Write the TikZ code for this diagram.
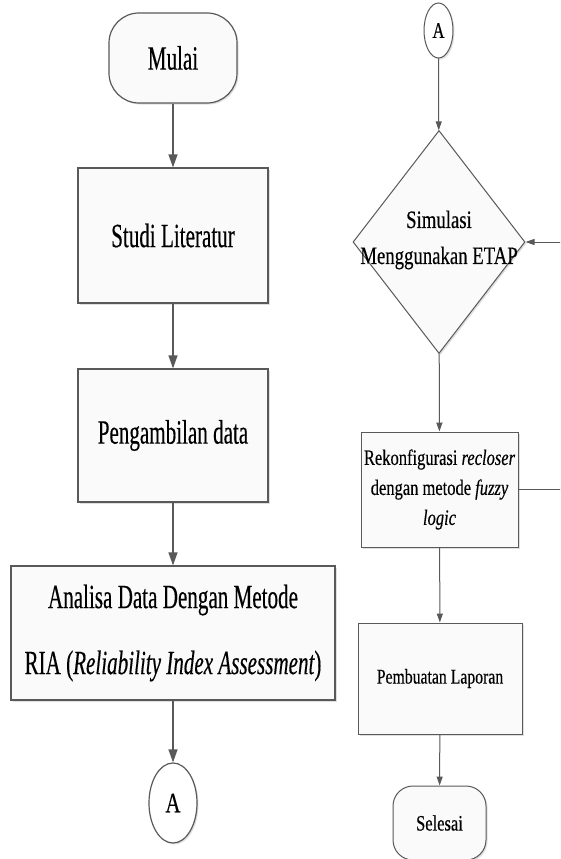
\documentclass[tikz,border=0pt]{standalone}
\usepackage{fontspec}
\setmainfont{Liberation Serif}
\newfontfamily\fL[FakeStretch=0.62,FakeBold=0.3]{Liberation Serif}
\newfontfamily\fR[FakeStretch=0.75,FakeBold=0.3]{Liberation Serif}
\usetikzlibrary{shapes.geometric,shadows,arrows.meta}

\begin{document}
\begin{tikzpicture}[x=1pt,y=-1pt,
  ln/.style={draw=black!65, line width=1.2pt},
  shad/.style={drop shadow={shadow xshift=1.5pt, shadow yshift=-1.5pt, opacity=0.25}},
  boxL/.style={ln, shad, rectangle, fill=black!2, inner sep=0pt,
     font=\fL\fontsize{34}{66}\selectfont, align=center},
  boxR/.style={ln, line width=1pt, shad, rectangle, fill=black!2, inner sep=0pt,
     font=\fR\fontsize{22}{30}\selectfont, align=center},
  termL/.style={boxL, rounded corners=30pt},
  termR/.style={boxR, rounded corners=20pt},
  conn/.style={ln, ellipse, fill=white, shad, inner sep=0pt},
  arrL/.style={ln, -{Triangle[length=13pt,width=9pt]}},
  arrR/.style={ln, line width=1pt, -{Triangle[length=9pt,width=6pt]}},
]
\path[use as bounding box, clip] (0,0) rectangle (560,859);
\fill[white] (0,0) rectangle (560,859);

% left column
\node[termL, minimum width=128, minimum height=90] (mulai) at (173,58) {Mulai};
\node[boxL, minimum width=190, minimum height=135] (studi) at (173,235.5) {Studi Literatur};
\node[boxL, minimum width=190, minimum height=133] (ambil) at (173,435.5) {Pengambilan data};
\node[boxL, minimum width=324, minimum height=134] (ria) at (173,633)
  {Analisa Data Dengan Metode\\RIA ({\itshape Reliability Index Assessment})};
\node[conn, minimum width=48, minimum height=80, font=\fR\fontsize{28}{30}\selectfont] (a1) at (173,803) {A};

\draw[arrL] (mulai) -- (studi);
\draw[arrL] (studi) -- (ambil);
\draw[arrL] (ambil) -- (ria);
\draw[arrL] (ria) -- (a1);

% right column
\node[conn, line width=1pt, minimum width=29, minimum height=55, font=\fR\fontsize{22}{24}\selectfont] (a2) at (438.5,30.5) {A};
\node[ln, line width=1pt, shad, diamond, fill=black!2, inner sep=0pt,
      minimum width=172, minimum height=223] (sim) at (439,242) {};
\node[font=\fR\fontsize{25}{36}\selectfont, align=center] (simt) at (439,240) {Simulasi\\Menggunakan ETAP};
\node[boxR, minimum width=157, minimum height=115] (rek) at (439.5,489.5)
  {Rekonfigurasi {\itshape recloser}\\dengan metode {\itshape fuzzy}\\{\itshape logic}};
\node[boxR, minimum width=164, minimum height=111, font=\fR\fontsize{21}{24}\selectfont] (lap) at (440,678.5) {Pembuatan Laporan};
\node[termR, minimum width=93, minimum height=74] (sel) at (439.5,823) {Selesai};

\coordinate (fb) at (575,489.5);
\draw[arrR] (a2) -- (sim);
\draw[arrR] (sim) -- (rek);
\draw[arrR] (rek) -- (lap);
\draw[arrR] (lap) -- (sel);
\draw[arrR] (rek.east) -- (fb) |- (sim.east);
\end{tikzpicture}
\end{document}
